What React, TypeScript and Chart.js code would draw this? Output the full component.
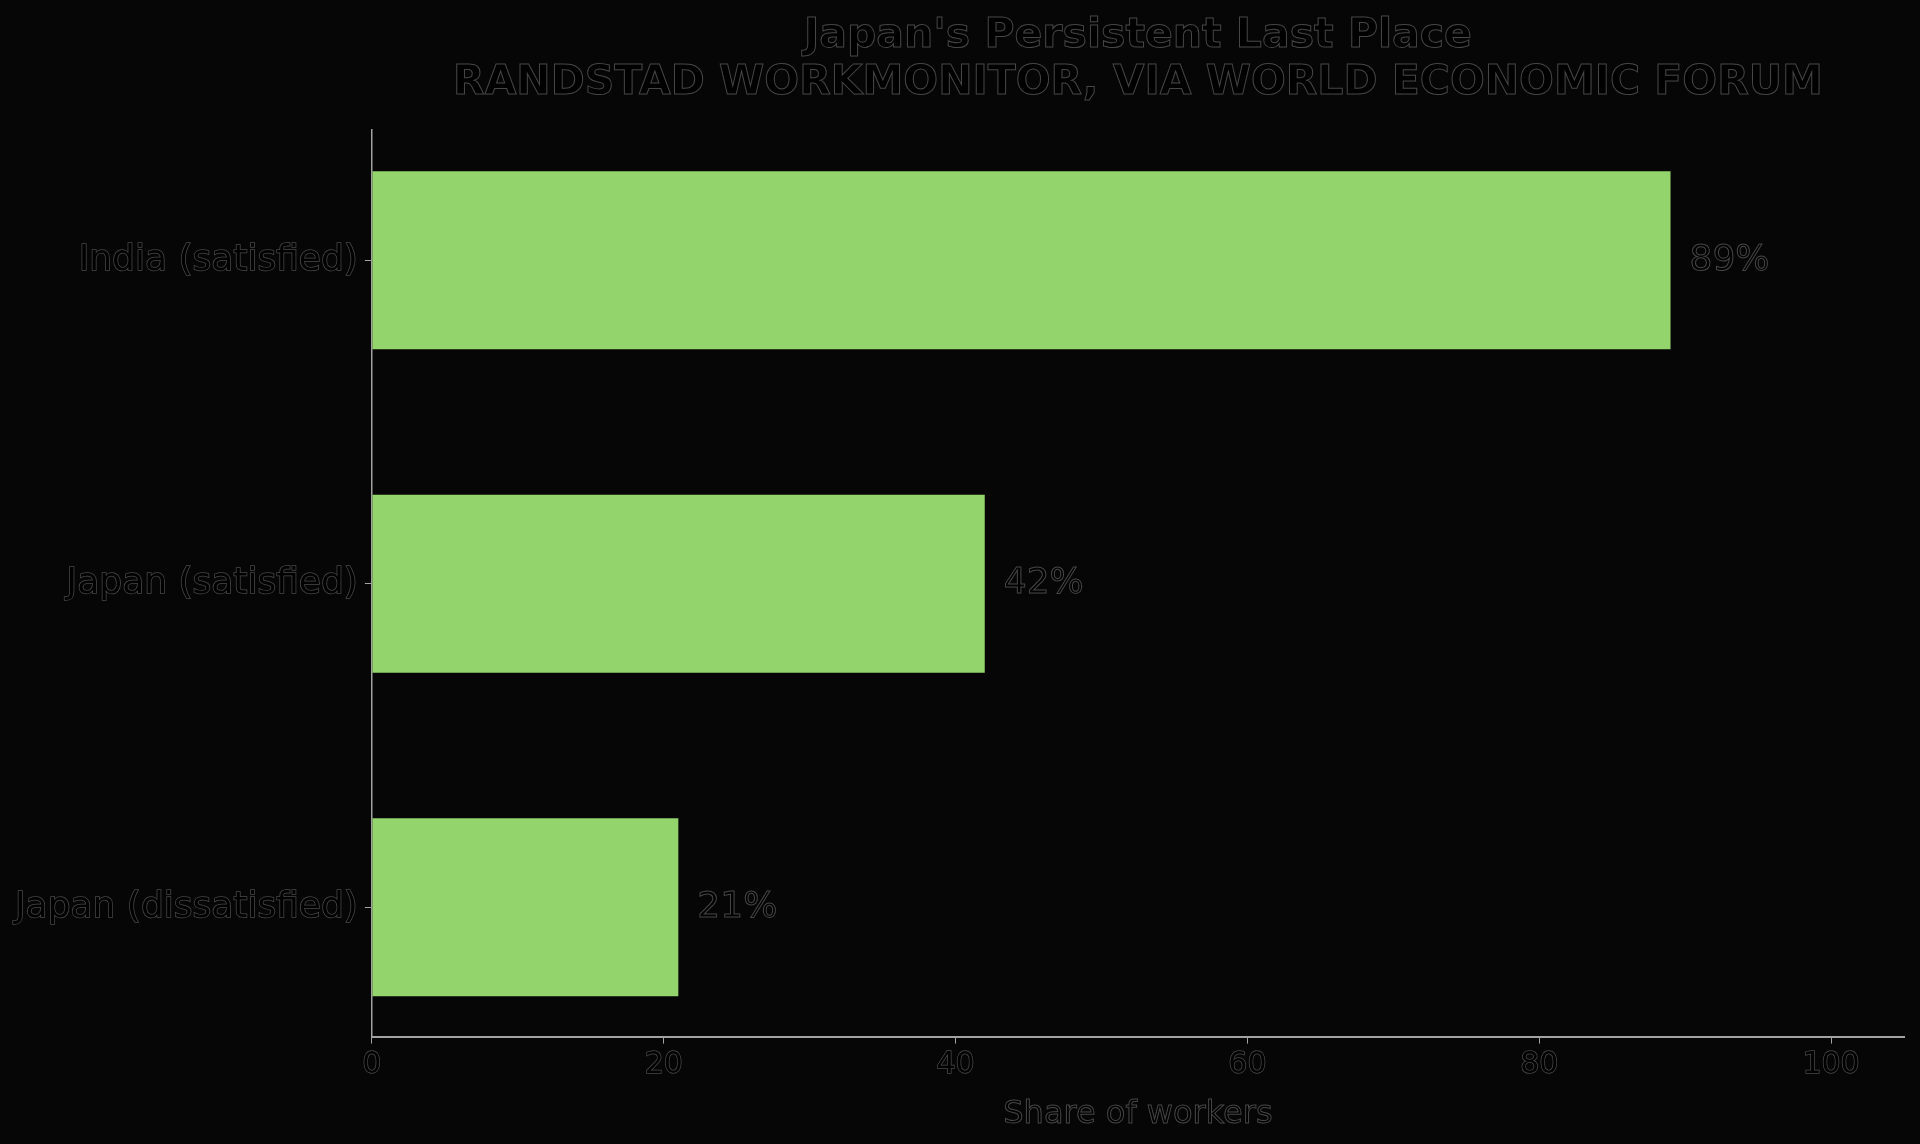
import { Chart, registerables } from 'chart.js';
import { useEffect, useRef } from 'react';

Chart.register(...registerables);

const TITLE_LINES = [
    "Japan's Persistent Last Place",
    'RANDSTAD WORKMONITOR, VIA WORLD ECONOMIC FORUM',
];
const CATEGORIES = ['India (satisfied)', 'Japan (satisfied)', 'Japan (dissatisfied)'];
const SHARES = [89, 42, 21];
const X_TICKS = [0, 20, 40, 60, 80, 100];
const X_TITLE = 'Share of workers';

const FONT = "'DejaVu Sans', sans-serif";
const HALO = 'rgba(125, 125, 125, 0.55)';
const AXIS = '#a2a2a2';
const BAR = '#93D56C';

// black text with a faint light outline, as in the reference
const outlinePlugin = {
    id: 'outline',
    afterDatasetsDraw(chart: any) {
        const ctx = chart.ctx;
        const meta = chart.getDatasetMeta(0);
        ctx.save();
        ctx.font = `36px ${FONT}`;
        ctx.textAlign = 'left';
        ctx.textBaseline = 'middle';
        ctx.fillStyle = '#000';
        ctx.strokeStyle = HALO;
        ctx.lineWidth = 1;
        meta.data.forEach((bar: any, i: number) => {
            const text = `${SHARES[i]}%`;
            ctx.fillText(text, bar.x + 19, bar.y);
            ctx.strokeText(text, bar.x + 19, bar.y);
        });
        ctx.restore();
    },
    afterDraw(chart: any) {
        const ctx = chart.ctx;
        ctx.save();
        ctx.strokeStyle = HALO;
        ctx.lineWidth = 1;
        ctx.textAlign = 'center';
        ctx.textBaseline = 'middle';

        const tb = chart.titleBlock;
        if (tb) {
            const lh = 41 * 1.15;
            ctx.font = `bold 41px ${FONT}`;
            TITLE_LINES.forEach((line, i) => {
                ctx.strokeText(line, tb.left + tb.width / 2, tb.top + 13 + lh / 2 + i * lh);
            });
        }

        const xs = chart.scales.x;
        ctx.font = `32px ${FONT}`;
        ctx.strokeText(X_TITLE, (xs.left + xs.right) / 2, xs.bottom - 10 - (32 * 1.2) / 2);
        ctx.restore();
    },
};

function BarChart() {
    const canvasRef = useRef<HTMLCanvasElement>(null);
    const chartRef = useRef<Chart | null>(null);

    useEffect(() => {
        if (!canvasRef.current) return;
        chartRef.current?.destroy();

        chartRef.current = new Chart(canvasRef.current, {
            type: 'bar',
            data: {
                datasets: [
                    {
                        label: X_TITLE,
                        data: SHARES.map((v, i) => ({ x: v, y: i })),
                        backgroundColor: BAR,
                        borderWidth: 0,
                        categoryPercentage: 1,
                        barPercentage: 0.55,
                    },
                ],
            },
            options: {
                indexAxis: 'y',
                responsive: true,
                maintainAspectRatio: false,
                animation: false,
                layout: { padding: { left: 8, right: 16, top: 0, bottom: 0 } },
                plugins: {
                    legend: { display: false },
                    tooltip: { enabled: false },
                    title: {
                        display: true,
                        fullSize: false,
                        text: TITLE_LINES,
                        color: '#000',
                        font: { family: FONT, size: 41, weight: 'bold', lineHeight: 1.15 },
                        padding: { top: 13, bottom: 22 },
                    },
                },
                scales: {
                    x: {
                        type: 'linear',
                        min: 0,
                        max: 105,
                        afterBuildTicks: (scale: any) => {
                            scale.ticks = X_TICKS.map((v) => ({ value: v }));
                        },
                        grid: {
                            display: true,
                            drawOnChartArea: false,
                            drawTicks: true,
                            tickLength: 7,
                            color: AXIS,
                        },
                        border: { display: true, color: AXIS, width: 2 },
                        ticks: {
                            padding: 4,
                            color: '#000',
                            textStrokeColor: HALO,
                            textStrokeWidth: 1.5,
                            font: { family: FONT, size: 30 },
                        },
                        title: {
                            display: true,
                            text: X_TITLE,
                            color: '#000',
                            font: { family: FONT, size: 32 },
                            padding: { top: 8, bottom: 10 },
                        },
                    },
                    y: {
                        type: 'linear',
                        reverse: true,
                        offset: false,
                        min: -0.405,
                        max: 2.4,
                        afterDataLimits: (scale: any) => {
                            scale.min = -0.405;
                            scale.max = 2.4;
                        },
                        afterBuildTicks: (scale: any) => {
                            scale.ticks = CATEGORIES.map((_, i) => ({ value: i }));
                        },
                        grid: {
                            display: true,
                            offset: false,
                            drawOnChartArea: false,
                            drawTicks: true,
                            tickLength: 7,
                            color: AXIS,
                        },
                        border: { display: true, color: AXIS, width: 1.5 },
                        ticks: {
                            padding: 7,
                            color: '#000',
                            textStrokeColor: HALO,
                            textStrokeWidth: 1.5,
                            font: { family: FONT, size: 36 },
                            callback: (v: any) => CATEGORIES[v] ?? '',
                        },
                    },
                },
            },
            plugins: [outlinePlugin],
        });

        return () => {
            chartRef.current?.destroy();
            chartRef.current = null;
        };
    }, []);

    return (
        <div style={{ width: '1920px', height: '1144px' }}>
            <canvas ref={canvasRef} />
        </div>
    );
}

export default function App() {
    useEffect(() => {
        document.body.style.margin = '0';
        document.body.style.background = '#060606';
    }, []);

    return (
        <div style={{ background: '#060606', width: '1920px', height: '1144px' }}>
            <BarChart />
        </div>
    );
}
